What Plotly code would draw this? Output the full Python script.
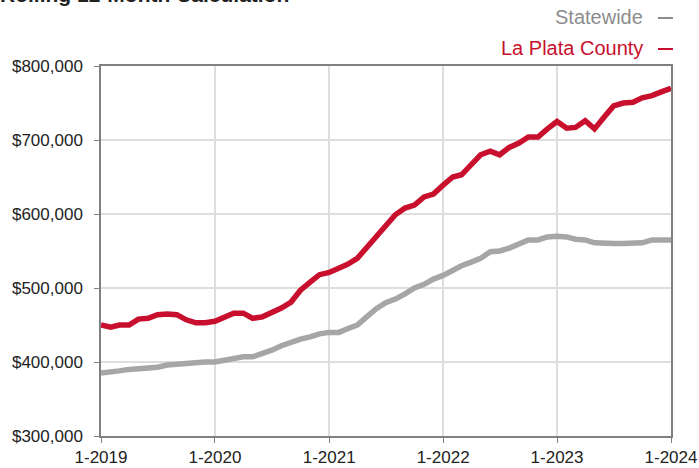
import pandas as pd
import plotly.graph_objects as go

months = pd.date_range("2019-01-01", "2024-01-01", freq="MS")

la_plata = [450000, 447000, 450000, 450000, 458000, 459000, 464000, 465000, 464000, 457000,
            453000, 453000, 455000, 461000, 466000, 466000, 459000, 461000, 466000, 473000,
            481000, 497000, 508000, 518000, 521000, 526000, 532000, 540000, 554000, 570000,
            585000, 599000, 608000, 612000, 623000, 627000, 639000, 650000, 653000, 666000,
            680000, 685000, 680000, 690000, 696000, 704000, 704000, 715000, 725000, 716000,
            717000, 726000, 715000, 731000, 746000, 750000, 751000, 757000, 760000, 765000,
            770000]
statewide = [385000, 386000, 388000, 390000, 391000, 391000, 393000, 396000, 397000, 399000,
             400000, 400000, 400000, 403000, 405000, 407000, 407000, 411000, 416000, 422000,
             427000, 431000, 434000, 438000, 440000, 440000, 445000, 450000, 461000, 472000,
             480000, 485000, 492000, 500000, 505000, 512000, 517000, 524000, 530000, 535000,
             540000, 549000, 550000, 554000, 559000, 565000, 565000, 569000, 570000, 569000,
             566000, 565000, 561000, 560000, 560000, 560000, 560000, 561000, 565000, 565000,
             565000]

x_tick_vals = ["2019-01-01", "2020-01-01", "2021-01-01", "2022-01-01", "2023-01-01", "2024-01-01"]
x_tick_text = ["1-2019", "1-2020", "1-2021", "1-2022", "1-2023", "1-2024"]
y_tick_vals = [300000, 400000, 500000, 600000, 700000, 800000]
y_tick_text = ["$300,000", "$400,000", "$500,000", "$600,000", "$700,000", "$800,000"]

RED = "#C8102E"
GRAY = "#A6A6A6"
FONT = "Liberation Sans, Arial, sans-serif"

fig = go.Figure()
fig.add_trace(go.Scatter(x=months, y=statewide, mode="lines", name="Statewide",
                         line=dict(color=GRAY, width=5.5), showlegend=False))
fig.add_trace(go.Scatter(x=months, y=la_plata, mode="lines", name="La Plata County",
                         line=dict(color=RED, width=5.5), showlegend=False))

fig.update_layout(
    width=699, height=468,
    margin=dict(l=101, r=28, t=66, b=32),
    paper_bgcolor="white", plot_bgcolor="white",
    font=dict(family=FONT, size=17, color="#222222"),
)
fig.update_xaxes(
    type="date", range=["2019-01-01", "2024-01-01"],
    tickvals=x_tick_vals, ticktext=x_tick_text, automargin=False,
    showgrid=True, gridcolor="#DEDEDE", gridwidth=1.5,
    showline=True, linecolor="#808080", linewidth=1.5, mirror=True,
    ticks="outside", ticklen=5, tickcolor="#808080",
    tickfont=dict(size=17, color="#222222"), zeroline=False,
)
fig.update_yaxes(
    range=[300000, 800000], automargin=False,
    tickvals=y_tick_vals, ticktext=y_tick_text,
    showgrid=True, gridcolor="#DEDEDE", gridwidth=1.5,
    showline=True, linecolor="#808080", linewidth=1.5, mirror=True,
    ticks="outside", ticklen=5, tickcolor="#808080",
    tickfont=dict(size=17, color="#222222"), zeroline=False,
    ticklabelstandoff=8,
)

def px_x(px):
    return (px - 101) / 570.0

def px_y(py):
    return (436 - py) / 370.0

fig.add_annotation(text="<b>Rolling 12-Month Calculation</b>", xref="paper", yref="paper",
                   x=px_x(-1), y=px_y(-6), xanchor="left", yanchor="middle", showarrow=False,
                   font=dict(size=21, color="#222222", family=FONT), borderpad=0)
fig.add_annotation(text="Statewide", xref="paper", yref="paper",
                   x=px_x(644), y=px_y(17), xanchor="right", yanchor="middle", showarrow=False,
                   font=dict(size=20, color="#8C8C8C", family=FONT), borderpad=0)
fig.add_annotation(text="La Plata County", xref="paper", yref="paper",
                   x=px_x(644), y=px_y(48), xanchor="right", yanchor="middle", showarrow=False,
                   font=dict(size=20, color=RED, family=FONT), borderpad=0)
fig.add_shape(type="line", xref="paper", yref="paper",
              x0=px_x(658), x1=px_x(673), y0=px_y(18), y1=px_y(18),
              line=dict(color="#8C8C8C", width=2))
fig.add_shape(type="line", xref="paper", yref="paper",
              x0=px_x(658), x1=px_x(673), y0=px_y(49), y1=px_y(49),
              line=dict(color=RED, width=2))

fig.write_html("out.html", config={"displayModeBar": False},
               post_script="document.body.style.margin='0';")
